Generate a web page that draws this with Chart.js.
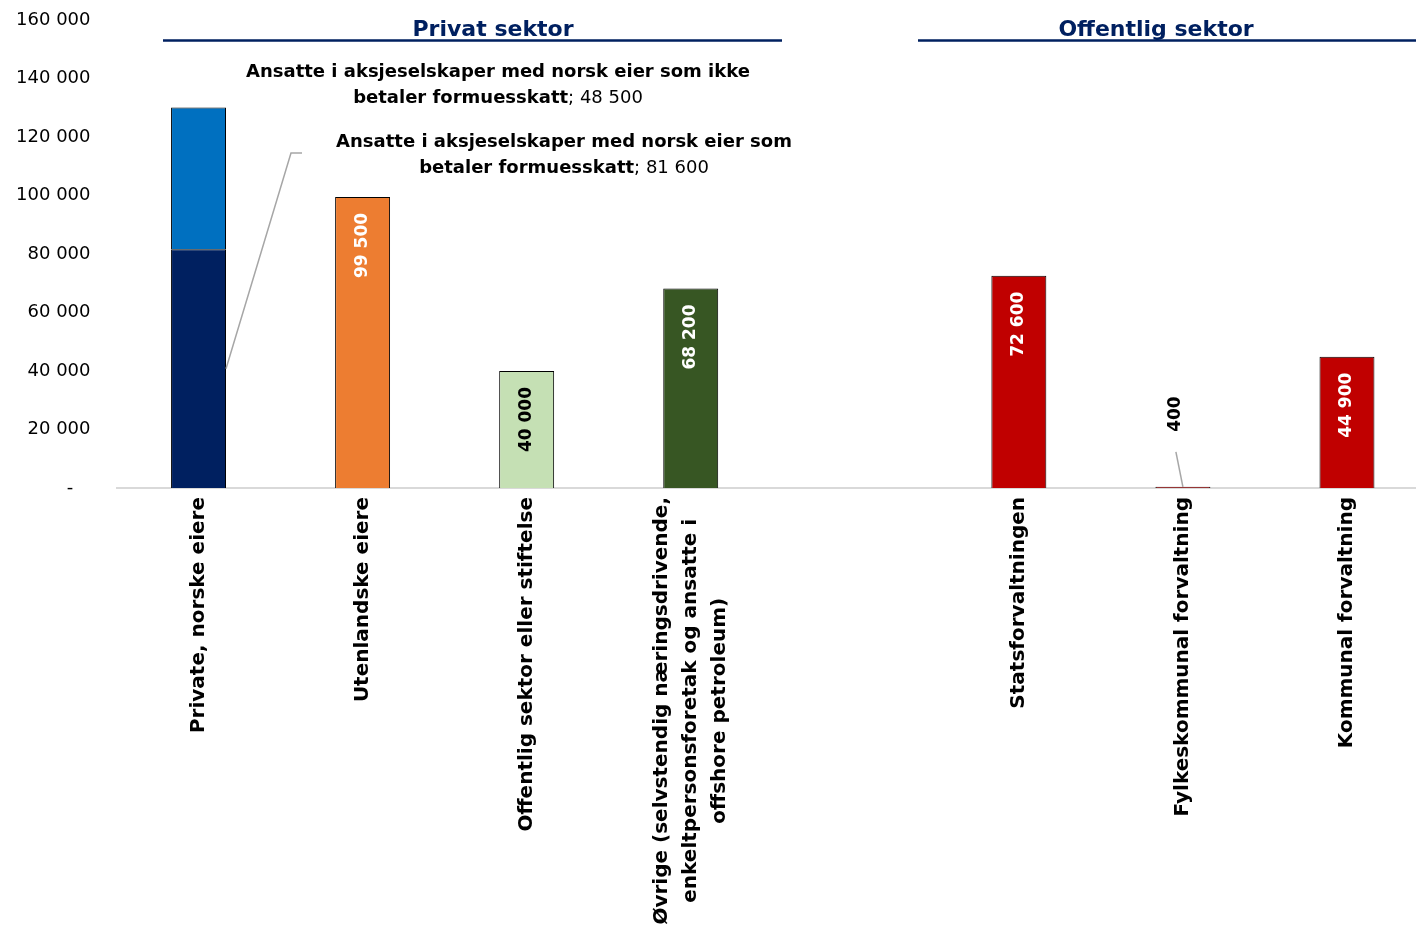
<!DOCTYPE html>
<html>
<head>
<meta charset="utf-8">
<script src="https://cdn.jsdelivr.net/npm/chart.js@4"></script>
<style>
  html, body { margin: 0; padding: 0; background: #fff; overflow: hidden; }
  #wrap { width: 1429px; height: 932px; }
</style>
</head>
<body>
<div id="wrap"><canvas id="chart"></canvas></div>
<script>
// Categories (multi-line axis labels), blank slot separates the two sectors
const categories = [
  ["Private, norske eiere"],
  ["Utenlandske eiere"],
  ["Offentlig sektor eller stiftelse"],
  ["Øvrige (selvstendig næringsdrivende,", "enkeltpersonsforetak og ansatte i", "offshore petroleum)"],
  [""],
  ["Statsforvaltningen"],
  ["Fylkeskommunal forvaltning"],
  ["Kommunal forvaltning"]
];

// Private, norske eiere split in two stacked parts
const payingWealthTax    = [81600, null, null, null, null, null, null, null];
const notPayingWealthTax = [48500, null, null, null, null, null, null, null];
// Remaining categories
const employees = [null, 99500, 40000, 68200, null, 72600, 400, 44900];

const barColors   = [null, "#ED7D31", "#C5E0B4", "#375623", null, "#C00000", "#C00000", "#C00000"];
const labelColors = [null, "#ffffff", "#000000", "#ffffff", null, "#ffffff", "#000000", "#ffffff"];

const yTicks = [0, 20000, 40000, 60000, 80000, 100000, 120000, 140000, 160000];
const sectorTitles = ["Privat sektor", "Offentlig sektor"];

const calloutNotPaying = ["Ansatte i aksjeselskaper med norsk eier som ikke", "betaler formuesskatt"];
const calloutPaying    = ["Ansatte i aksjeselskaper med norsk eier som", "betaler formuesskatt"];

const FONT = "'DejaVu Sans', sans-serif";
const fmt = v => String(v).replace(/\B(?=(\d{3})+(?!\d))/g, " ");

// draws value labels, callouts, sector headers and x labels
const annotations = {
  id: "annotations",
  afterDatasetsDraw(chart) {
    const ctx = chart.ctx;
    const x = chart.scales.x;

    // value labels on single bars
    const meta = chart.getDatasetMeta(2);
    employees.forEach((v, i) => {
      if (v == null) return;
      const bar = meta.data[i];
      ctx.save();
      ctx.font = "bold 17px " + FONT;
      ctx.fillStyle = labelColors[i];
      ctx.textBaseline = "middle";
      if (v < 5000) {
        // tiny bar: label above with leader line
        ctx.strokeStyle = "#a6a6a6";
        ctx.lineWidth = 1.5;
        ctx.beginPath();
        ctx.moveTo(bar.x - 7, bar.y - 35);
        ctx.lineTo(bar.x, bar.y);
        ctx.stroke();
        ctx.translate(bar.x - 7, bar.y - 55);
        ctx.rotate(-Math.PI / 2);
        ctx.textAlign = "left";
      } else {
        ctx.translate(bar.x, bar.y + 16);
        ctx.rotate(-Math.PI / 2);
        ctx.textAlign = "right";
      }
      ctx.fillText(fmt(v), 0, 0);
      ctx.restore();
    });

    // callouts for the stacked bar
    const drawCallout = (lines, value, cx, top) => {
      ctx.save();
      ctx.fillStyle = "#000";
      ctx.textBaseline = "middle";
      ctx.textAlign = "left";
      lines.forEach((line, k) => {
        const yy = top + k * 26;
        ctx.font = "bold 18px " + FONT;
        const wb = ctx.measureText(line).width;
        const rest = k === lines.length - 1 ? "; " + fmt(value) : "";
        ctx.font = "18px " + FONT;
        const wr = ctx.measureText(rest).width;
        const x0 = cx - (wb + wr) / 2;
        ctx.font = "bold 18px " + FONT;
        ctx.fillText(line, x0, yy);
        ctx.font = "18px " + FONT;
        ctx.fillText(rest, x0 + wb, yy);
      });
      ctx.restore();
    };
    drawCallout(calloutNotPaying, notPayingWealthTax[0], 498, 72);
    drawCallout(calloutPaying, payingWealthTax[0], 564, 142);

    // leader line for the paying part
    const seg = chart.getDatasetMeta(0).data[0];
    ctx.save();
    ctx.strokeStyle = "#a6a6a6";
    ctx.lineWidth = 1.5;
    ctx.beginPath();
    ctx.moveTo(seg.x + seg.width / 2, (seg.y + seg.base) / 2);
    ctx.lineTo(291, 153);
    ctx.lineTo(302, 153);
    ctx.stroke();
    ctx.restore();

    // sector headers
    ctx.save();
    ctx.fillStyle = "#002060";
    ctx.strokeStyle = "#002060";
    ctx.lineWidth = 2.5;
    ctx.font = "bold 22px " + FONT;
    ctx.textAlign = "center";
    ctx.textBaseline = "alphabetic";
    ctx.fillText(sectorTitles[0], 493, 36);
    ctx.fillText(sectorTitles[1], 1156, 36);
    ctx.beginPath();
    ctx.moveTo(163, 40.5); ctx.lineTo(782, 40.5);
    ctx.moveTo(918, 40.5); ctx.lineTo(1429, 40.5);
    ctx.stroke();
    ctx.restore();

    // rotated x labels, lines centered within the block
    ctx.save();
    ctx.fillStyle = "#000";
    ctx.font = "bold 20px " + FONT;
    ctx.textBaseline = "middle";
    ctx.textAlign = "center";
    categories.forEach((lines, i) => {
      const cx = x.getPixelForValue(i);
      const maxW = Math.max(...lines.map(l => ctx.measureText(l).width));
      const cy = 497 + maxW / 2;
      lines.forEach((line, k) => {
        ctx.save();
        ctx.translate(cx + (k - (lines.length - 1) / 2) * 29, cy);
        ctx.rotate(-Math.PI / 2);
        ctx.fillText(line, 0, 0);
        ctx.restore();
      });
    });
    ctx.restore();
  }
};

const common = {
  borderColor: "#000000",
  borderWidth: 1,
  barPercentage: 0.335,
  categoryPercentage: 1
};

new Chart(document.getElementById("chart"), {
  type: "bar",
  data: {
    labels: categories.map(c => c.join(" ")),
    datasets: [
      Object.assign({ label: "Betaler formuesskatt", data: payingWealthTax, backgroundColor: "#002060" }, common),
      Object.assign({ label: "Betaler ikke formuesskatt", data: notPayingWealthTax, backgroundColor: "#0070C0" }, common),
      Object.assign({ label: "Ansatte", data: employees, backgroundColor: barColors }, common)
    ]
  },
  options: {
    responsive: true,
    maintainAspectRatio: false,
    animation: false,
    layout: { padding: { top: 20, right: 0, bottom: 0, left: 0 } },
    plugins: {
      legend: { display: false },
      tooltip: { enabled: false }
    },
    scales: {
      x: {
        stacked: true,
        grid: { display: false, drawTicks: false },
        border: { display: true, color: "#d9d9d9", width: 2 },
        ticks: { display: false },
        afterFit(scale) { scale.height = 444; }
      },
      y: {
        stacked: true,
        min: 0,
        max: 160000,
        grid: { display: false, drawTicks: false },
        border: { display: false },
        afterFit(scale) {
          scale.width = 116.5;
          scale.paddingTop = 0;
          scale.paddingBottom = 0;
        },
        afterBuildTicks(scale) { scale.ticks = yTicks.map(v => ({ value: v })); },
        ticks: {
          padding: 26,
          color: "#000",
          font: { family: "DejaVu Sans", size: 18 },
          callback: v => v === 0 ? "-   " : fmt(v)
        }
      }
    }
  },
  plugins: [annotations]
});
</script>
</body>
</html>
